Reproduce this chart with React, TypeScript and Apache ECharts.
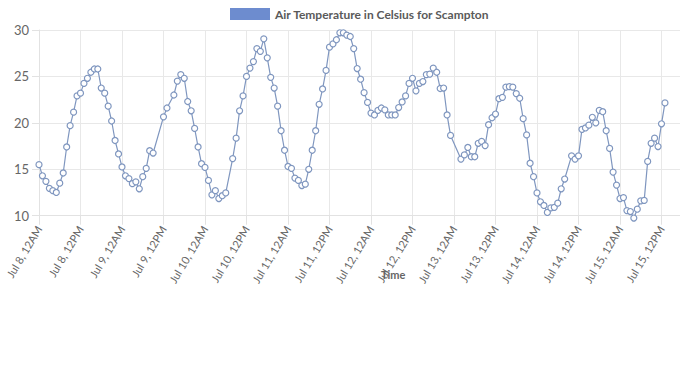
import React, { useEffect, useRef } from "react";
import * as echarts from "echarts";

// Hours since Jul 8, 12AM (hourly readings; some hours missing)
const hours: number[] = [
  0, 1, 2, 3, 4, 5, 6, 7, 8, 9, 10, 11, 12, 13, 14, 15, 16, 17, 18, 19, 20, 21, 22, 23, 24, 25, 26, 27, 28, 29, 30, 31, 32, 33,
  36, 37,
  39, 40, 41, 42, 43, 44, 45, 46, 47, 48, 49, 50, 51, 52, 53, 54,
  56, 57, 58, 59, 60, 61, 62, 63, 64, 65, 66, 67, 68, 69, 70, 71, 72, 73, 74, 75, 76, 77, 78, 79, 80, 81, 82, 83, 84, 85,
  86, 87, 88, 89, 90, 91, 92, 93, 94, 95, 96, 97, 98, 99, 100, 101, 102, 103, 104, 105, 106, 107, 108, 109, 110, 111, 112,
  113, 114, 115, 116, 117, 118, 119,
  122, 123, 124, 125, 126, 127, 128, 129, 130, 131, 132, 133, 134, 135, 136, 137, 138, 139, 140, 141, 142, 143, 144, 145,
  146, 147, 148, 149, 150, 151, 152,
  154, 155, 156, 157, 158, 159, 160, 161, 162, 163, 164, 165, 166, 167, 168, 169, 170, 171, 172, 173, 174, 175, 176, 177,
  178, 179, 180, 181,
];

const temperatures: number[] = [
  15.5, 14.3, 13.7, 12.95, 12.7, 12.5, 13.5, 14.6, 17.4, 19.7,
  21.15, 22.9, 23.2, 24.25, 24.8, 25.45, 25.8, 25.8, 23.75, 23.2,
  21.8, 20.2, 18.1, 16.65, 15.25, 14.3, 14.0, 13.45, 13.65, 12.9,
  14.2, 15.1, 17.0, 16.75,
  20.65, 21.6,
  23.0, 24.5, 25.2, 24.8, 22.3, 21.3, 19.4, 17.4, 15.6, 15.2,
  13.8, 12.25, 12.7, 11.85, 12.15, 12.45,
  16.15, 18.35, 21.3, 22.9, 25.0, 25.9, 26.6, 28.0, 27.7, 29.05,
  27.0, 24.9, 23.75, 21.8, 19.15, 17.05, 15.3, 15.1, 14.05, 13.8,
  13.25, 13.4, 15.0, 17.05, 19.15, 22.0, 23.65, 25.65, 28.15, 28.5,
  28.95, 29.7, 29.7, 29.45, 29.3, 28.0, 25.85, 24.7, 23.25, 22.2,
  21.05, 20.85, 21.35, 21.6, 21.4, 20.85, 20.85, 20.85, 21.65, 22.25,
  22.9, 24.25, 24.8, 23.45, 24.25, 24.45, 25.2, 25.25, 25.9, 25.45,
  23.7, 23.75, 20.85, 18.65,
  16.1, 16.55, 17.35, 16.35, 16.35, 17.8, 18.0, 17.55, 19.8, 20.55,
  20.95, 22.6, 22.75, 23.85, 23.9, 23.85, 23.15, 22.65, 20.45, 18.7,
  15.65, 14.2, 12.45, 11.5, 11.1, 10.35, 10.85, 10.9, 11.35, 12.9, 13.95,
  16.45, 16.1, 16.45, 19.3, 19.45, 19.75, 20.6, 20.0, 21.35, 21.2,
  19.15, 17.25, 14.7, 13.3, 11.85, 11.95, 10.55, 10.45, 9.75, 10.7,
  11.6, 11.65, 15.85, 17.8, 18.35, 17.45, 19.9, 22.15,
];

const seriesName = "Air Temperature in Celsius for Scampton";
const xAxisTitle = "Time";
const startDay = 8;
const monthLabel = "Jul";
const yTicks = [10, 15, 20, 25, 30];

function hourLabel(h: number): string {
  const day = startDay + Math.floor(h / 24);
  const half = h % 24 === 0 ? "12AM" : "12PM";
  return `${monthLabel} ${day}, ${half}`;
}

export default function App() {
  const ref = useRef<HTMLDivElement>(null);

  useEffect(() => {
    document.body.style.margin = "0";
    document.body.style.overflow = "hidden";
    if (!ref.current) return;
    const chart = echarts.init(ref.current, undefined, { renderer: "svg" });
    const font = "Lato, 'Open Sans', sans-serif";
    chart.setOption({
      animation: false,
      backgroundColor: "#ffffff",
      textStyle: { fontFamily: font },
      legend: {
        left: 230,
        top: 8,
        padding: 0,
        itemWidth: 40,
        itemHeight: 12,
        itemGap: 10,
        icon: "rect",
        data: [
          {
            name: seriesName,
            itemStyle: { color: "#6d8ccf", borderWidth: 0 },
          },
        ],
        textStyle: { fontSize: 12, color: "#5a5a5a", fontFamily: font, fontWeight: "bold" },
      },
      grid: { left: 39, top: 30, width: 664, height: 185.7, containLabel: false },
      xAxis: {
        type: "value",
        min: 0,
        max: 192,
        interval: 12,
        axisLine: { show: true, lineStyle: { color: "#e2e2e2", width: 1 } },
        axisTick: { show: true, length: 9, lineStyle: { color: "#e2e2e2" } },
        splitLine: { show: true, lineStyle: { color: "#e8e8e8", width: 1 } },
        axisLabel: {
          rotate: 59,
          margin: 11,
          fontSize: 11,
          color: "#666",
          fontFamily: font,
          showMaxLabel: false,
          formatter: (v: number) => hourLabel(v),
        },
      },
      yAxis: {
        type: "value",
        min: yTicks[0],
        max: yTicks[yTicks.length - 1],
        interval: 5,
        axisLine: { show: true, lineStyle: { color: "#e2e2e2", width: 1 } },
        axisTick: { show: true, length: 7, lineStyle: { color: "#e2e2e2" } },
        splitLine: { show: true, lineStyle: { color: "#e8e8e8", width: 1 } },
        axisLabel: { margin: 10, fontSize: 13, color: "#666", fontFamily: font },
      },
      graphic: [
        {
          type: "text",
          left: 381,
          top: 269,
          style: { text: xAxisTitle, fontSize: 11, fill: "#666", fontFamily: font, fontWeight: "bold" },
        },
      ],
      series: [
        {
          name: seriesName,
          type: "line",
          clip: false,
          data: hours.map((h, i) => [h, temperatures[i]]),
          symbol: "circle",
          symbolSize: 6,
          showAllSymbol: true,
          lineStyle: { color: "#7f96bf", width: 1.2 },
          itemStyle: { color: "#ffffff", borderColor: "#7f96bf", borderWidth: 1.2 },
        },
      ],
    });
    return () => chart.dispose();
  }, []);

  return <div ref={ref} style={{ width: 740, height: 382 }} />;
}
